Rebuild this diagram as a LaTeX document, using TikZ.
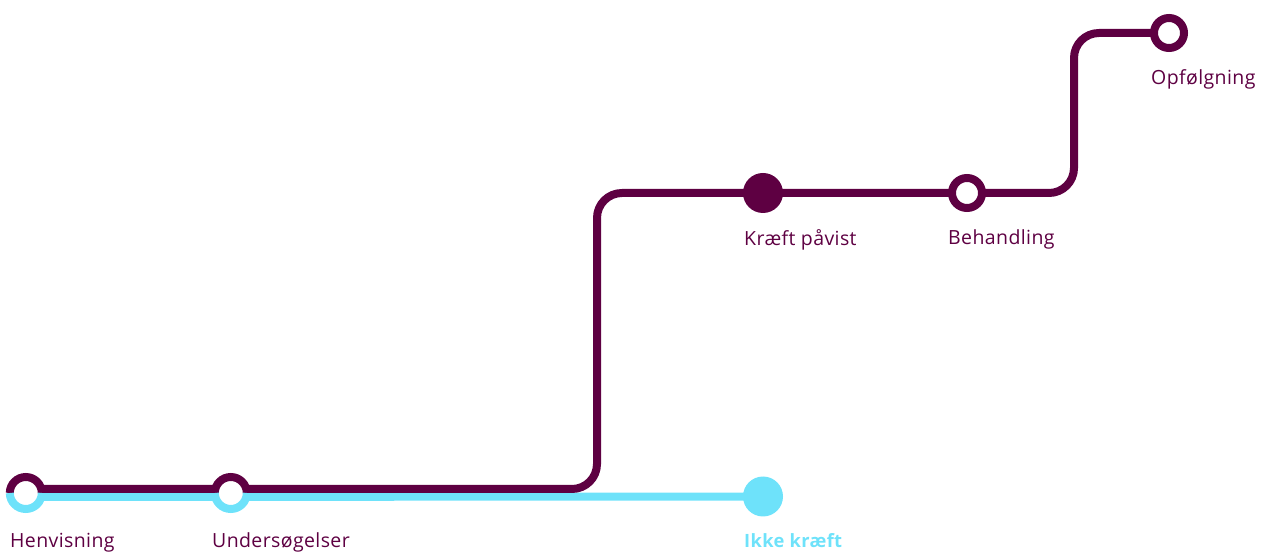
\documentclass[tikz,border=0pt]{standalone}
\usepackage{fontspec}
\setmainfont[LetterSpace=2]{Open Sans}
\usetikzlibrary{backgrounds}
\definecolor{pur}{HTML}{5E0042}
\definecolor{cya}{HTML}{6EE2FA}
\tikzset{
  x=1pt, y=1pt,
  track/.style={line width=8pt},
  openstop/.style={circle, minimum size=30pt, inner sep=0pt, draw=pur, line width=8pt, fill=white},
  splitstop/.style={circle, minimum size=32pt, inner sep=0pt, fill=white},
  fullstop/.style={circle, minimum size=40pt, inner sep=0pt},
  lbl/.style={anchor=base west, inner sep=0pt, font=\fontsize{19.5}{23}\selectfont, text=pur},
}
\begin{document}
\begin{tikzpicture}
\useasboundingbox (0,0) rectangle (1262,552);
% stops
\node[splitstop] (hen) at (26,59) {};
\node[splitstop] (und) at (231,59) {};
\node[fullstop, fill=cya] (ik) at (763,55.5) {};
\node[fullstop, fill=pur] (kp) at (763,359) {};
\node[openstop] (beh) at (967,359) {};
\node[openstop] (opf) at (1169,519) {};
% tracks
\begin{scope}[on background layer]
  \draw[track, cya] ([yshift=-4pt]hen.center) -- (ik.center);
  \draw[track, pur, rounded corners=25pt] ([yshift=4pt]hen.center) -- (597,63) -- (597,359) -- (kp.center) -- (beh.center) -- (1074,359) -- (1074,519) -- (opf.center);
\end{scope}
% split rings
\foreach \s in {hen,und}{
  \draw[pur, line width=8pt] (\s.west) arc[start angle=180, end angle=0, radius=16pt];
  \draw[cya, line width=8pt] (\s.west) arc[start angle=180, end angle=360, radius=16pt];
}
% labels
\node[lbl] (lhen) at (10,5) {Henvisning};
\node[lbl] (lund) at (212,5) {Undersøgelser};
\node[lbl, text=cya, font=\fontsize{18.3}{22}\selectfont\bfseries] (lik) at (744,5) {Ikke kræft};
\node[lbl] (lkp) at (744,306) {Kræft påvist};
\node[lbl] (lbeh) at (948,307) {Behandling};
\node[lbl] (lopf) at (1151,467) {Opfølgning};
\end{tikzpicture}
\end{document}
